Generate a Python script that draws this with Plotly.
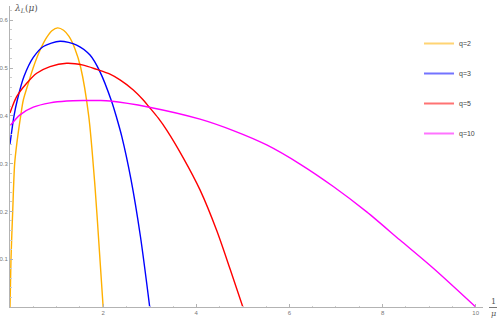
import plotly.graph_objects as go

# ---- data (x = 1/mu, y = lambda_L(mu)) ----
q2_x = [0.0, 0.021, 0.058, 0.10, 0.15, 0.23, 0.286, 0.40, 0.50, 0.644, 0.788, 0.90, 1.024, 1.15, 1.267, 1.396, 1.518, 1.69, 1.825, 1.918, 2.0]
q2_y = [0.0, 0.100, 0.200, 0.300, 0.345, 0.400, 0.433, 0.470, 0.501, 0.537, 0.564, 0.578, 0.584, 0.579, 0.566, 0.540, 0.501, 0.400, 0.252, 0.120, 0.0]

q3_x = [0.0, 0.086, 0.157, 0.30, 0.50, 0.716, 1.074, 1.432, 1.718, 1.933, 2.183, 2.29, 2.40, 2.60, 2.80, 3.0]
q3_y = [0.341, 0.400, 0.433, 0.482, 0.522, 0.545, 0.556, 0.548, 0.527, 0.492, 0.430, 0.396, 0.357, 0.266, 0.148, 0.0]

q5_x = [0.0, 0.143, 0.358, 0.573, 0.859, 1.217, 1.574, 1.861, 2.147, 2.362, 2.648, 2.862, 2.991, 3.185, 3.365, 3.72, 4.08, 4.439, 4.724, 5.0]
q5_y = [0.406, 0.440, 0.468, 0.489, 0.503, 0.510, 0.506, 0.497, 0.487, 0.475, 0.454, 0.433, 0.418, 0.395, 0.370, 0.312, 0.245, 0.160, 0.080, 0.0]

q10_x = [0.0, 0.215, 0.50, 0.859, 1.217, 1.574, 1.933, 2.147, 2.991, 4.08, 4.795, 5.512, 6.227, 6.942, 7.66, 8.374, 9.09, 10.0]
q10_y = [0.379, 0.402, 0.418, 0.427, 0.431, 0.432, 0.432, 0.431, 0.418, 0.393, 0.369, 0.339, 0.299, 0.252, 0.199, 0.140, 0.081, 0.0]

names = ["q=2", "q=3", "q=5", "q=10"]
colors = ["#FFB000", "#0000FF", "#FF0000", "#FF00FF"]
x_ticks = [2, 4, 6, 8, 10]
y_ticks = [0.1, 0.2, 0.3, 0.4, 0.5, 0.6]

series = [(q2_x, q2_y), (q3_x, q3_y), (q5_x, q5_y), (q10_x, q10_y)]

# ---- layout geometry (pixels) ----
W, H = 498, 319
L, R, T, B = 10, 483, 6, 307


def px(xp):
    return (xp - L) / (R - L)


def py(yp):
    return (B - yp) / (B - T)


fig = go.Figure()
for (xs, ys), c, n in zip(series, colors, names):
    fig.add_trace(go.Scatter(x=xs, y=ys, mode="lines", line=dict(color=c, width=1.4, shape="spline", smoothing=0.8),
                             showlegend=False, hoverinfo="skip", cliponaxis=True))
for c, n in zip(colors, names):
    fig.add_trace(go.Scatter(x=[None], y=[None], mode="lines", name=n, legendgroup=n,
                             line=dict(color=c, width=2), opacity=0.55))

axis_common = dict(showgrid=False, zeroline=False, showline=True, linecolor="#b3b3b3", linewidth=1,
                   ticks="inside", ticklen=3, tickcolor="#b3b3b3",
                   tickfont=dict(family="Liberation Sans", size=6, color="#777777"))

x_range_max = (R - L) / 46.57
y_range_max = (B - T) / 478.0

fig.update_xaxes(range=[0, x_range_max], tickvals=x_ticks, ticktext=[str(v) for v in x_ticks],
                 minor=dict(dtick=0.5, ticks="inside", ticklen=1.5, tickcolor="#cccccc"), **axis_common)
fig.update_yaxes(range=[0, y_range_max], tickvals=y_ticks, ticktext=[str(v) for v in y_ticks],
                 minor=dict(dtick=0.02, ticks="inside", ticklen=1.5, tickcolor="#cccccc"), **axis_common)

annotations = [
    dict(text="<i>λ</i><sub><i>L</i></sub>(<i>μ</i>)", x=px(12), y=py(1), xanchor="left", yanchor="top",
         font=dict(family="DejaVu Serif", size=9, color="#555555")),
    dict(text="1", x=px(493), y=py(301), xanchor="center", yanchor="middle",
         font=dict(family="DejaVu Serif", size=8, color="#555555")),
    dict(text="<i>μ</i>", x=px(493), y=py(313.5), xanchor="center", yanchor="middle",
         font=dict(family="DejaVu Serif", size=8, color="#555555")),
]
for a in annotations:
    a.update(xref="paper", yref="paper", showarrow=False)

fig.update_layout(
    width=W, height=H,
    margin=dict(l=L, r=W - R, t=T, b=H - B, pad=0, autoexpand=False),
    paper_bgcolor="white", plot_bgcolor="white",
    annotations=annotations,
    shapes=[dict(type="line", xref="paper", yref="paper", x0=px(489), x1=px(497), y0=py(307.5), y1=py(307.5),
                 line=dict(color="#555555", width=0.8))],
    legend=dict(xref="container", yref="container", x=419 / W, y=1 - 29 / H, xanchor="left", yanchor="top",
                font=dict(family="Liberation Sans", size=7, color="#444444"), tracegroupgap=11,
                bgcolor="rgba(0,0,0,0)"),
)

fig.write_html("out.html", config={"displayModeBar": False},
               post_script="document.body.style.margin='0';document.body.style.overflow='hidden';")
